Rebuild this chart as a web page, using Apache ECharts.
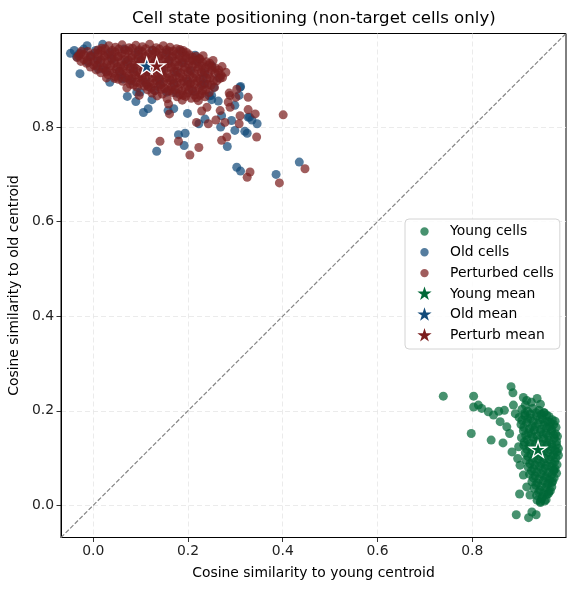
<!DOCTYPE html>
<html><head><meta charset="utf-8">
<script src="https://cdn.jsdelivr.net/npm/echarts@6/dist/echarts.min.js"></script>
<style>html,body{margin:0;padding:0;background:#fff}#c{width:575px;height:590px}</style>
</head><body><div id="c"></div><script>
// ---- data ----
const xTicks = [0.0, 0.2, 0.4, 0.6, 0.8];
const yTicks = [0.0, 0.2, 0.4, 0.6, 0.8];
const axisMin = -0.068, axisMax = 0.998;

const youngCells = [
 [0.739,0.231],[0.803,0.231],[0.882,0.251],[0.886,0.238],[0.908,0.228],[0.813,0.212],[0.820,0.205],[0.803,0.208],
 [0.798,0.152],[0.840,0.138],[0.865,0.132],[0.834,0.198],[0.845,0.191],[0.856,0.199],[0.868,0.201],[0.859,0.177],
 [0.873,0.166],[0.879,0.152],[0.887,0.212],[0.891,0.194],[0.912,0.212],[0.937,0.226],[0.951,0.196],[0.884,0.113],
 [0.898,0.124],[0.896,0.099],[0.901,0.085],[0.908,0.064],[0.900,0.024],[0.915,0.039],[0.922,0.022],[0.937,0.011],
 [0.944,0.008],[0.961,0.025],[0.893,-0.020],[0.919,-0.026],[0.926,-0.014],[0.935,-0.020],[0.968,0.048],[0.972,0.075],
 [0.925,0.218],[0.944,0.214],[0.915,0.222],
 [0.905,0.203],[0.917,0.199],[0.928,0.205],[0.941,0.201],[0.952,0.196],[0.962,0.188],
 [0.899,0.186],[0.911,0.190],[0.923,0.184],[0.936,0.189],[0.948,0.183],[0.959,0.178],[0.969,0.181],
 [0.903,0.171],[0.915,0.175],[0.927,0.168],[0.939,0.173],[0.951,0.169],[0.963,0.166],[0.972,0.171],
 [0.908,0.158],[0.919,0.153],[0.931,0.159],[0.944,0.155],[0.956,0.152],[0.967,0.157],[0.976,0.151],
 [0.904,0.143],[0.916,0.139],[0.928,0.144],[0.940,0.138],[0.951,0.141],[0.962,0.137],[0.973,0.142],
 [0.909,0.127],[0.921,0.124],[0.933,0.129],[0.946,0.122],[0.958,0.127],[0.969,0.123],[0.978,0.128],
 [0.912,0.111],[0.924,0.108],[0.936,0.113],[0.948,0.107],[0.960,0.112],[0.971,0.106],[0.979,0.113],
 [0.914,0.096],[0.927,0.093],[0.939,0.098],[0.951,0.091],[0.963,0.097],[0.974,0.092],
 [0.918,0.081],[0.930,0.077],[0.942,0.083],[0.954,0.078],[0.966,0.082],[0.975,0.077],
 [0.921,0.066],[0.933,0.062],[0.945,0.067],[0.957,0.061],[0.968,0.065],
 [0.926,0.050],[0.938,0.047],[0.950,0.052],[0.961,0.046],[0.970,0.051],
 [0.931,0.036],[0.943,0.032],[0.955,0.037],[0.965,0.031],
 [0.936,0.021],[0.948,0.018],[0.958,0.023],
 [0.944,0.006],[0.953,0.009],
 [0.911,0.195],[0.923,0.193],[0.935,0.196],[0.946,0.192],[0.957,0.191],
 [0.905,0.180],[0.917,0.182],[0.929,0.178],[0.942,0.181],[0.954,0.176],[0.965,0.175],[0.975,0.178],
 [0.909,0.165],[0.921,0.162],[0.933,0.166],[0.945,0.161],[0.957,0.164],[0.968,0.161],[0.977,0.165],
 [0.913,0.148],[0.925,0.151],[0.937,0.147],[0.950,0.150],[0.961,0.146],[0.972,0.149],[0.980,0.146],
 [0.910,0.134],[0.922,0.131],[0.934,0.135],[0.946,0.130],[0.957,0.133],[0.968,0.130],[0.978,0.135],
 [0.915,0.119],[0.927,0.116],[0.939,0.120],[0.952,0.115],[0.964,0.118],[0.975,0.116],[0.982,0.120],
 [0.918,0.103],[0.930,0.100],[0.942,0.104],[0.954,0.099],[0.966,0.103],[0.977,0.100],[0.982,0.106],
 [0.922,0.088],[0.933,0.085],[0.945,0.089],[0.957,0.084],[0.969,0.088],[0.979,0.086],
 [0.925,0.073],[0.937,0.070],[0.949,0.074],[0.961,0.069],[0.972,0.072],[0.978,0.068],
 [0.929,0.058],[0.941,0.055],[0.953,0.059],[0.964,0.054],[0.973,0.058],
 [0.934,0.043],[0.946,0.040],[0.958,0.044],[0.968,0.039],
 [0.940,0.028],[0.951,0.025],[0.962,0.029],
 [0.947,0.014],[0.956,0.012]
];

const oldCells = [
 [-0.048,0.956],[-0.035,0.949],[-0.028,0.913],[-0.013,0.972],[-0.011,0.937],[0.011,0.923],[-0.040,0.962],[0.035,0.895],
 [0.072,0.865],[0.090,0.854],[0.106,0.831],[0.116,0.839],[0.124,0.858],[0.134,0.749],[0.158,0.835],[0.170,0.839],
 [0.180,0.784],[0.194,0.787],[0.192,0.761],[0.199,0.829],[0.223,0.807],[0.236,0.817],[0.250,0.867],[0.264,0.855],
 [0.269,0.800],[0.283,0.759],[0.292,0.814],[0.299,0.793],[0.303,0.715],[0.311,0.707],[0.311,0.886],[0.308,0.867],
 [0.320,0.791],[0.330,0.821],[0.335,0.815],[0.346,0.807],[0.386,0.700],[0.435,0.726],[0.271,0.824],[0.236,0.891],
 [0.155,0.874],[0.099,0.874],[0.063,0.902],[0.060,0.905],[0.092,0.874],[0.141,0.891],[0.232,0.902],[0.310,0.884],
 [0.325,0.787],[0.250,0.858],[0.299,0.846],[0.327,0.821],
 [-0.030,0.955],[-0.020,0.965],[-0.005,0.952],[0.020,0.975],
 [0.005,0.962],[0.035,0.958],[0.065,0.965],[0.095,0.960],[0.125,0.963],[0.155,0.958],[0.185,0.961],[0.215,0.952],
 [0.010,0.940],[0.040,0.944],[0.070,0.938],[0.100,0.942],[0.130,0.937],[0.160,0.941],[0.190,0.936],[0.220,0.939],[0.250,0.930],
 [0.025,0.921],[0.055,0.918],[0.085,0.923],[0.115,0.917],[0.145,0.921],[0.175,0.916],[0.205,0.920],[0.235,0.914],[0.265,0.905],
 [0.080,0.898],[0.110,0.895],[0.140,0.900],[0.170,0.893],[0.200,0.897],[0.230,0.890],[0.255,0.884],
 [0.130,0.878],[0.175,0.872],[0.210,0.876],[0.245,0.866]
];

const perturbedCells = [
 [0.401,0.826],[0.447,0.712],[0.393,0.682],[0.331,0.705],[0.325,0.694],[0.345,0.779],[0.271,0.772],[0.282,0.779],
 [0.223,0.757],[0.204,0.741],[0.180,0.770],[0.141,0.770],[0.327,0.837],[0.342,0.828],[0.308,0.807],[0.310,0.824],
 [0.289,0.842],[0.327,0.863],[0.301,0.863],[0.278,0.810],[0.259,0.815],[0.218,0.810],[0.243,0.807],[0.161,0.828],
 [0.159,0.849],[0.289,0.867],[0.268,0.835],[0.285,0.853],[0.225,0.867],[0.229,0.834],[0.240,0.842],[0.097,0.867],
 [0.071,0.883],[0.028,0.904],[-0.025,0.960],[0.116,0.886],[0.190,0.867],[0.204,0.891],[0.273,0.905],[0.287,0.872],
 [0.303,0.880],[0.162,0.877],
 [0.018,0.967],[0.033,0.972],[0.047,0.969],[0.061,0.974],[0.076,0.968],[0.090,0.973],[0.104,0.970],[0.119,0.975],[0.133,0.968],[0.148,0.972],[0.162,0.969],[0.176,0.966],[0.190,0.962],
 [-0.027,0.955],[-0.012,0.960],[0.003,0.957],[0.017,0.961],[0.031,0.955],[0.046,0.959],[0.060,0.956],[0.074,0.961],[0.089,0.957],[0.103,0.960],[0.117,0.955],[0.132,0.959],[0.146,0.956],[0.160,0.960],[0.175,0.954],[0.189,0.958],[0.203,0.953],[0.217,0.950],
 [-0.034,0.947],[-0.020,0.943],[-0.005,0.948],[0.009,0.944],[0.024,0.949],[0.038,0.945],[0.052,0.948],[0.067,0.943],[0.081,0.947],[0.095,0.944],[0.110,0.949],[0.124,0.945],[0.138,0.947],[0.153,0.943],[0.167,0.948],[0.181,0.944],[0.196,0.946],[0.210,0.942],[0.224,0.945],[0.239,0.938],
 [-0.014,0.935],[0.001,0.931],[0.015,0.936],[0.029,0.932],[0.044,0.935],[0.058,0.930],[0.072,0.934],[0.087,0.931],[0.101,0.936],[0.115,0.932],[0.130,0.935],[0.144,0.930],[0.158,0.934],[0.173,0.931],[0.187,0.936],[0.201,0.932],[0.216,0.934],[0.230,0.929],[0.244,0.931],[0.258,0.925],
 [0.006,0.921],[0.020,0.924],[0.035,0.919],[0.049,0.923],[0.063,0.920],[0.078,0.924],[0.092,0.918],[0.106,0.922],[0.121,0.919],[0.135,0.923],[0.149,0.920],[0.164,0.924],[0.178,0.918],[0.192,0.922],[0.207,0.919],[0.221,0.923],[0.235,0.918],[0.250,0.921],[0.264,0.915],
 [0.031,0.911],[0.046,0.907],[0.060,0.912],[0.075,0.908],[0.089,0.910],[0.103,0.906],[0.118,0.911],[0.132,0.907],[0.146,0.910],[0.161,0.905],[0.175,0.909],[0.189,0.906],[0.204,0.910],[0.218,0.905],[0.232,0.909],[0.247,0.904],[0.261,0.898],
 [0.062,0.897],[0.077,0.900],[0.091,0.895],[0.105,0.899],[0.120,0.894],[0.134,0.898],[0.148,0.895],[0.163,0.899],[0.177,0.894],[0.191,0.897],[0.206,0.893],[0.220,0.897],[0.234,0.892],[0.249,0.889],
 [0.093,0.884],[0.108,0.887],[0.122,0.883],[0.137,0.886],[0.151,0.882],[0.165,0.885],[0.180,0.881],[0.194,0.884],[0.209,0.880],[0.223,0.883],[0.238,0.879],
 [0.124,0.872],[0.146,0.870],[0.168,0.873],[0.183,0.869],[0.199,0.872],[0.214,0.868],[0.229,0.871],
 [0.156,0.860],[0.188,0.857],[0.207,0.861],[0.222,0.856],
 [0.010,0.963],[0.025,0.966],[0.040,0.962],[0.054,0.965],[0.068,0.963],[0.083,0.967],[0.097,0.963],[0.111,0.966],[0.126,0.962],[0.140,0.965],[0.155,0.963],[0.169,0.961],[0.183,0.964],[0.197,0.958],
 [-0.031,0.951],[-0.019,0.953],[-0.005,0.950],[0.010,0.954],[0.024,0.951],[0.039,0.953],[0.053,0.950],[0.067,0.954],[0.082,0.951],[0.096,0.953],[0.110,0.950],[0.125,0.954],[0.139,0.951],[0.153,0.953],[0.168,0.950],[0.182,0.952],[0.196,0.950],[0.210,0.948],[0.225,0.944],[0.232,0.951],
 [-0.026,0.939],[-0.012,0.941],[0.002,0.938],[0.016,0.942],[0.031,0.939],[0.045,0.941],[0.059,0.938],[0.074,0.942],[0.088,0.939],[0.102,0.941],[0.117,0.938],[0.131,0.942],[0.145,0.939],[0.160,0.941],[0.174,0.938],[0.188,0.942],[0.203,0.939],[0.217,0.940],[0.231,0.936],[0.246,0.935],[0.253,0.941],
 [-0.006,0.927],[0.008,0.929],[0.022,0.926],[0.037,0.930],[0.051,0.927],[0.065,0.929],[0.080,0.926],[0.094,0.930],[0.108,0.927],[0.123,0.929],[0.137,0.926],[0.151,0.930],[0.166,0.927],[0.180,0.929],[0.194,0.926],[0.209,0.929],[0.223,0.927],[0.237,0.925],[0.251,0.927],[0.265,0.921],[0.272,0.928],
 [0.016,0.915],[0.028,0.917],[0.042,0.914],[0.056,0.917],[0.071,0.915],[0.085,0.916],[0.099,0.913],[0.114,0.917],[0.128,0.914],[0.142,0.916],[0.157,0.913],[0.171,0.917],[0.185,0.914],[0.200,0.916],[0.214,0.913],[0.228,0.916],[0.243,0.912],[0.257,0.914],[0.270,0.910],[0.280,0.916],
 [0.045,0.903],[0.053,0.901],[0.068,0.904],[0.082,0.902],[0.096,0.904],[0.111,0.901],[0.125,0.904],[0.139,0.902],[0.154,0.904],[0.168,0.901],[0.182,0.904],[0.197,0.902],[0.211,0.904],[0.225,0.901],[0.240,0.903],[0.254,0.898],[0.268,0.903],
 [0.078,0.891],[0.085,0.889],[0.099,0.892],[0.113,0.890],[0.128,0.892],[0.142,0.889],[0.156,0.892],[0.171,0.890],[0.185,0.892],[0.199,0.889],[0.214,0.891],[0.228,0.888],[0.242,0.890],[0.256,0.884],
 [0.115,0.879],[0.130,0.877],[0.144,0.880],[0.158,0.877],[0.173,0.879],[0.187,0.876],[0.202,0.878],[0.216,0.875],[0.231,0.877],[0.245,0.873],
 [0.135,0.866],[0.177,0.864],[0.195,0.865],[0.218,0.862],[0.236,0.864]
];

const youngMean = [[0.939, 0.117]];
const oldMean = [[0.113, 0.928]];
const perturbMean = [[0.134, 0.928]];
const diagonal = [[axisMin, axisMin], [axisMax, axisMax]];

const seriesNames = ['Young cells', 'Old cells', 'Perturbed cells', 'Young mean', 'Old mean', 'Perturb mean'];

// ---- styling ----
const cYoung = '#006837', cOld = '#134b7a', cPert = '#7b1e1e';
const FONT = 'DejaVu Sans';
const starPath = 'path://M0,0 M100,100 M50,0 L61.2,34.5 L97.6,34.5 L68.2,55.9 L79.4,90.5 L50,69.1 L20.6,90.5 L31.8,55.9 L2.4,34.5 L38.8,34.5 Z';
const starIcon = 'path://M0,0 M28,15 M7.5,0 L9.18,5.18 L14.64,5.18 L10.23,8.39 L11.91,13.58 L7.5,10.37 L3.09,13.58 L4.77,8.39 L0.36,5.18 L5.82,5.18 Z';
const circleIcon = 'path://M0,0 M28,15 M7.5,3.3 A4.2,4.2 0 1,1 7.5,11.7 A4.2,4.2 0 1,1 7.5,3.3 Z';

function cellSeries(name, data, color) {
  return {
    name: name, type: 'scatter', data: data, symbol: 'circle', symbolSize: 9,
    itemStyle: { color: color, opacity: 0.72, borderWidth: 0 },
    emphasis: { disabled: true }, silent: true, z: 3
  };
}
function meanSeries(name, data, color) {
  return {
    name: name, type: 'scatter', data: data, symbol: starPath, symbolSize: 18,
    itemStyle: { color: color, opacity: 1, borderColor: '#ffffff', borderWidth: 1.3 },
    emphasis: { disabled: true }, silent: true, z: 5
  };
}

const axisCommon = {
  type: 'value', min: axisMin, max: axisMax,
  nameLocation: 'middle',
  nameTextStyle: { fontFamily: FONT, fontSize: 13.9, color: '#000' },
  axisLine: { show: true, onZero: false, lineStyle: { color: '#000', width: 1 } },
  axisTick: { show: true, length: 4.5, customValues: xTicks, lineStyle: { color: '#000', width: 0.8 } },
  axisLabel: { customValues: xTicks, formatter: v => v.toFixed(1), fontFamily: FONT, fontSize: 13.9, color: '#222', margin: 7 },
  splitLine: { show: true, lineStyle: { color: '#e6e6e6', width: 0.8, type: [5, 3] } }
};

const chart = echarts.init(document.getElementById('c'), null, { renderer: 'canvas' });
chart.setOption({
  animation: false,
  backgroundColor: '#ffffff',
  textStyle: { fontFamily: FONT },
  title: {
    text: 'Cell state positioning (non-target cells only)',
    left: 132, top: 10, padding: 0,
    textStyle: { fontFamily: FONT, fontSize: 16.6, fontWeight: 'normal', color: '#000' }
  },
  grid: { left: 61, right: 9, top: 33.5, bottom: 52.5, show: true, borderColor: '#000', borderWidth: 1, outerBoundsMode: 'none', containLabel: false },
  xAxis: Object.assign({}, axisCommon, {
    name: 'Cosine similarity to young centroid', nameGap: 29
  }),
  yAxis: Object.assign({}, axisCommon, {
    name: 'Cosine similarity to old centroid', nameGap: 32,
    axisTick: Object.assign({}, axisCommon.axisTick, { customValues: yTicks }),
    axisLabel: Object.assign({}, axisCommon.axisLabel, { customValues: yTicks })
  }),
  legend: {
    orient: 'vertical', left: 405, top: 219,
    padding: [5, 6, 6, 12], itemGap: 5.8, itemWidth: 28, itemHeight: 15,
    backgroundColor: 'rgba(255,255,255,0.85)', borderColor: '#d4d4d4', borderWidth: 1, borderRadius: 4,
    selectedMode: false,
    itemStyle: { borderWidth: 0 },
    textStyle: { fontFamily: FONT, fontSize: 13.9, lineHeight: 15, color: '#000' },
    data: [
      { name: seriesNames[0], icon: circleIcon },
      { name: seriesNames[1], icon: circleIcon },
      { name: seriesNames[2], icon: circleIcon },
      { name: seriesNames[3], icon: starIcon },
      { name: seriesNames[4], icon: starIcon },
      { name: seriesNames[5], icon: starIcon }
    ]
  },
  series: [
    {
      name: 'diagonal', type: 'line', data: diagonal, showSymbol: false, symbol: 'none',
      lineStyle: { color: '#868686', width: 1.2, type: [4.5, 2] }, silent: true, z: 2
    },
    cellSeries(seriesNames[0], youngCells, cYoung),
    cellSeries(seriesNames[1], oldCells, cOld),
    cellSeries(seriesNames[2], perturbedCells, cPert),
    meanSeries(seriesNames[3], youngMean, cYoung),
    meanSeries(seriesNames[4], oldMean, cOld),
    meanSeries(seriesNames[5], perturbMean, cPert)
  ]
});
</script></body></html>
